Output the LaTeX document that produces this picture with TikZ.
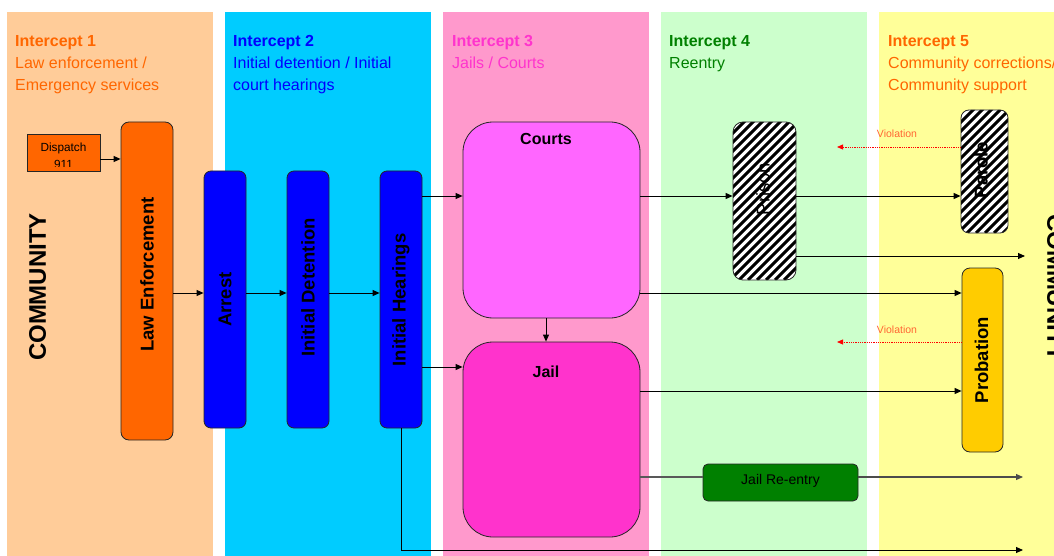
\documentclass[tikz,border=0pt]{standalone}
\usepackage{fontspec}
\setmainfont{Liberation Sans}
\usetikzlibrary{arrows.meta,calc}
\definecolor{peach}{HTML}{FFCC99}
\definecolor{cyanp}{HTML}{00CCFF}
\definecolor{pinkp}{HTML}{FF99CC}
\definecolor{greenp}{HTML}{CCFFCC}
\definecolor{yellowp}{HTML}{FFFF99}
\definecolor{orangeB}{HTML}{FF6600}
\definecolor{blueB}{HTML}{0000FF}
\definecolor{courtsB}{HTML}{FF66FF}
\definecolor{jailB}{HTML}{FF33CC}
\definecolor{probB}{HTML}{FFCC00}
\definecolor{reB}{HTML}{008000}
\definecolor{violT}{HTML}{FF6633}
\definecolor{hdrthree}{HTML}{FF33CC}
\definecolor{hdrfour}{HTML}{008000}
\begin{document}
\begin{tikzpicture}[x=1pt,y=-1pt,
  hdr/.style={anchor=base west,inner sep=0pt,font=\fontsize{16}{19}\selectfont\bfseries},
  sub/.style={anchor=base west,inner sep=0pt,font=\fontsize{16}{19}\selectfont},
  box/.style={draw=black!85,line width=0.8pt,inner sep=0pt,rectangle},
  vtext/.style={rotate=90,inner sep=0pt,font=\fontsize{18.5}{22}\selectfont\bfseries},
  hatch/.style={fill=white,path picture={
      \foreach \k in {0,...,27}{
        \draw[black,line width=3pt] ($(path picture bounding box.south west)+(\k*9-165,0)$) -- ++(200,-200);}}},
  arr/.style={draw=black,line width=0.9pt,-{Triangle[length=7pt,width=6pt]}},
  garr/.style={draw=black!70,line width=1.1pt,-{Triangle[length=7pt,width=6pt]}},
  gline/.style={draw=black!65,line width=1.1pt},
  viol/.style={draw=red,line width=0.8pt,densely dotted,-{Triangle[length=6pt,width=5pt]}},
  vlab/.style={inner sep=0pt,text=violT,font=\fontsize{10.5}{12}\selectfont}]
\clip (0,0) rectangle (1054,556);
\fill[white] (0,0) rectangle (1054,556);
% panels
\fill[peach] (7,12) rectangle (213,556);
\fill[cyanp] (225,12) rectangle (431,556);
\fill[pinkp] (443,12) rectangle (649,556);
\fill[greenp] (661,12) rectangle (867,556);
\fill[yellowp] (879,12) rectangle (1060,556);
% headers
\node[hdr,text=orangeB] (h1a) at (15,47) {Intercept 1};
\node[sub,text=orangeB] (h1b) at (15,69) {Law enforcement /};
\node[sub,text=orangeB] (h1c) at (15,91) {Emergency services};
\node[hdr,text=blueB] (h2a) at (233,47) {Intercept 2};
\node[sub,text=blueB] (h2b) at (233,69) {Initial detention / Initial};
\node[sub,text=blueB] (h2c) at (233,91) {court hearings};
\node[hdr,text=hdrthree] (h3a) at (452,47) {Intercept 3};
\node[sub,text=hdrthree] (h3b) at (452,69) {Jails / Courts};
\node[hdr,text=hdrfour] (h4a) at (669,47) {Intercept 4};
\node[sub,text=hdrfour] (h4b) at (669,69) {Reentry};
\node[hdr,text=orangeB] (h5a) at (888,47) {Intercept 5};
\node[sub,text=orangeB] (h5b) at (888,69) {Community corrections/};
\node[sub,text=orangeB] (h5c) at (888,91) {Community support};
% community labels
\node[rotate=90,inner sep=0pt,font=\fontsize{24}{28}\selectfont\bfseries] (comL) at (37.5,287) {COMMUNITY};
\node[rotate=-90,inner sep=0pt,font=\fontsize{24}{28}\selectfont\bfseries] (comR) at (1055.5,288) {COMMUNITY};
% boxes
\node[box,fill=orangeB,minimum width=73pt,minimum height=37pt] (dispatch) at (63.5,152.5) {};
\begin{scope}
\clip (27,134) rectangle (100,166.5);
\node[inner sep=0pt,anchor=base,font=\fontsize{11.8}{13}\selectfont] (dtext1) at (63.5,151.5) {Dispatch};
\node[inner sep=0pt,anchor=base,font=\fontsize{11.8}{13}\selectfont] (dtext2) at (63.5,169) {911};
\end{scope}
\node[box,fill=orangeB,rounded corners=8pt,minimum width=52pt,minimum height=318pt] (le) at (147,281) {};
\node[vtext] (letext) at (147,274.5) {Law Enforcement};
\node[box,fill=blueB,rounded corners=7pt,minimum width=42pt,minimum height=257pt] (arrest) at (225,299.5) {};
\node[vtext] (arresttext) at (225,299.5) {Arrest};
\node[box,fill=blueB,rounded corners=7pt,minimum width=42pt,minimum height=257pt] (initdet) at (308,299.5) {};
\node[vtext] (initdettext) at (308,287.5) {Initial Detention};
\node[box,fill=blueB,rounded corners=7pt,minimum width=42pt,minimum height=257pt] (inithear) at (401,299.5) {};
\node[vtext] (inithtext) at (401,300) {Initial Hearings};
\node[box,fill=courtsB,rounded corners=30pt,minimum width=177pt,minimum height=196pt] (courts) at (551.5,220) {};
\node[inner sep=0pt,anchor=base,font=\fontsize{16}{19}\selectfont\bfseries] (courtstext) at (546,145) {Courts};
\node[box,fill=jailB,rounded corners=30pt,minimum width=177pt,minimum height=195pt] (jail) at (551.5,439.5) {};
\node[inner sep=0pt,anchor=base,font=\fontsize{16}{19}\selectfont\bfseries] (jailtext) at (546,377) {Jail};
\node[box,hatch,rounded corners=10pt,minimum width=63pt,minimum height=158pt] (prison) at (764.5,201) {};
\node[rotate=90,inner sep=0pt,font=\fontsize{18.5}{22}\selectfont] (prisontext) at (763,189) {Prison};
\node[box,hatch,rounded corners=8pt,minimum width=47pt,minimum height=123pt] (parole) at (984.5,171.5) {};
\node[vtext] (paroletext) at (981,170) {Parole};
\node[box,fill=probB,rounded corners=8pt,minimum width=41pt,minimum height=184pt] (probation) at (982.5,360) {};
\node[vtext] (probtext) at (981.5,360) {Probation};
\node[box,fill=reB,rounded corners=5pt,minimum width=155pt,minimum height=37pt] (reentry) at (780.5,482.5) {};
\node[inner sep=0pt,font=\fontsize{14}{16}\selectfont] (reentrytext) at (780.5,480.5) {Jail Re-entry};
% free ends
\coordinate (o1) at (1025,256);
\coordinate (o2) at (1023,477);
\coordinate (o3) at (1023,550);
\coordinate (v1e) at (837,147);
\coordinate (v2e) at (837,342);
% connectors
\draw[arr] ($(dispatch.east)+(0,6.5)$) coordinate (d1) -- (d1 -| le.west);
\draw[arr] ($(le.east)+(0,12)$) coordinate (a1) -- (a1 -| arrest.west);
\draw[arr] ($(arrest.east)+(0,-6.5)$) coordinate (a2) -- (a2 -| initdet.west);
\draw[arr] ($(initdet.east)+(0,-6.5)$) coordinate (a3) -- (a3 -| inithear.west);
\path ($(courts.west)+(0,-24)$) coordinate (c1);
\draw[arr] (c1 -| inithear.east) -- (c1);
\path ($(jail.west)+(0,-72.5)$) coordinate (j1);
\draw[arr] (j1 -| inithear.east) -- (j1);
\draw[arr] (courts.south -| courtstext) -- (jail.north -| courtstext);
\path ($(prison.west)+(0,-5)$) coordinate (p1);
\draw[arr] (p1 -| courts.east) -- (p1);
\draw[arr] (p1 -| prison.east) -- (p1 -| parole.west);
\draw[arr] (o1 -| prison.east) -- (o1);
\path ($(probation.west)+(0,-67)$) coordinate (pr1);
\draw[arr] (pr1 -| courts.east) -- (pr1);
\path ($(probation.west)+(0,31)$) coordinate (pr2);
\draw[arr] (pr2 -| jail.east) -- (pr2);
\draw[viol] (v1e -| parole.west) -- (v1e);
\node[vlab] (vl1) at (897,134) {Violation};
\draw[viol] (v2e -| probation.west) -- (v2e);
\node[vlab] (vl2) at (897,330) {Violation};
\draw[gline] (o2 -| jail.east) -- (o2 -| reentry.west);
\draw[garr] (o2 -| reentry.east) -- (o2);
\draw[arr] (inithear.south) |- (o3);
\end{tikzpicture}
\end{document}
